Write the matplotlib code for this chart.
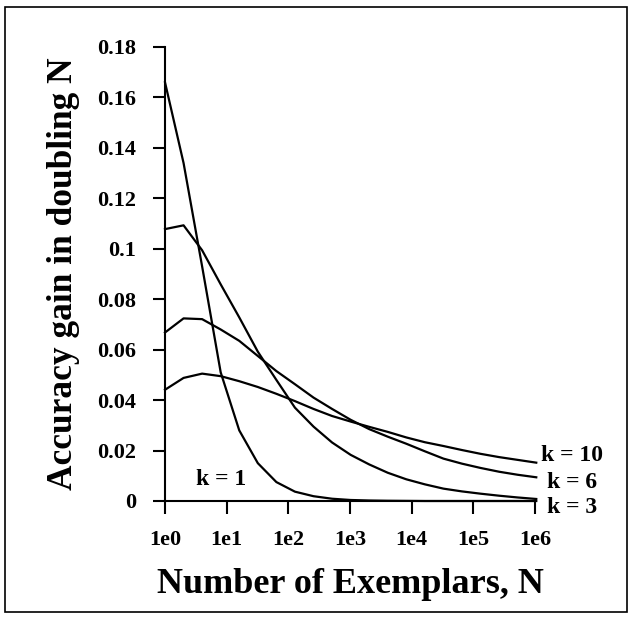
import numpy as np
import matplotlib
matplotlib.use("Agg")
import matplotlib.pyplot as plt
from matplotlib.patches import Rectangle

# Number of exemplars: successive doublings from 1 to ~1e6
doublings = list(range(21))
N = [2.0 ** i for i in doublings]

k1 = [0.166, 0.134, 0.093, 0.051, 0.028, 0.015, 0.0075, 0.0037, 0.0019, 0.0009,
      0.0004, 0.0002, 0.0001, 0.00005, 0.0, 0.0, 0.0, 0.0, 0.0, 0.0, 0.0]
k3 = [0.1078, 0.1093, 0.0994, 0.0859, 0.0728, 0.0592, 0.048, 0.037, 0.0295, 0.0232,
      0.0183, 0.0145, 0.0112, 0.0086, 0.0066, 0.0049, 0.0038, 0.0029, 0.0021, 0.0014, 0.0008]
k6 = [0.0668, 0.0724, 0.0721, 0.068, 0.0635, 0.0575, 0.0515, 0.0463, 0.041, 0.0365,
      0.0322, 0.0285, 0.0255, 0.0227, 0.0197, 0.0168, 0.0148, 0.0131, 0.0116, 0.0104, 0.0094]
k10 = [0.0441, 0.0488, 0.0505, 0.0495, 0.0475, 0.0452, 0.0425, 0.0396, 0.0365, 0.0337,
       0.0315, 0.0294, 0.0274, 0.0252, 0.0233, 0.0218, 0.0202, 0.0187, 0.0174, 0.0163, 0.0152]

x_ticks = [1e0, 1e1, 1e2, 1e3, 1e4, 1e5, 1e6]
x_tick_labels = ["1e0", "1e1", "1e2", "1e3", "1e4", "1e5", "1e6"]
y_ticks = [0, 0.02, 0.04, 0.06, 0.08, 0.1, 0.12, 0.14, 0.16, 0.18]
y_tick_labels = ["0", "0.02", "0.04", "0.06", "0.08", "0.1", "0.12", "0.14", "0.16", "0.18"]

plt.rcParams["font.family"] = ["Liberation Serif", "DejaVu Serif"]
plt.rcParams["font.weight"] = "bold"

fig = plt.figure(figsize=(6.29, 6.22), dpi=100)
fig.patch.set_facecolor("white")

# outer frame
fig.patches.append(Rectangle((5 / 629, 1 - 612 / 622), 622 / 629, 605 / 622,
                             transform=fig.transFigure, fill=False,
                             edgecolor="black", linewidth=1.2))

ax = fig.add_axes([165 / 629, 1 - 501 / 622, 370 / 629, 454 / 622])
ax.set_xscale("log")
for series in (k1, k3, k6, k10):
    ax.plot(N, series, color="black", linewidth=1.6, clip_on=False)

ax.set_xlim(1, 1e6)
ax.set_ylim(0, 0.18)
ax.set_xticks(x_ticks)
ax.set_xticklabels(x_tick_labels)
ax.xaxis.set_minor_locator(matplotlib.ticker.NullLocator())
ax.set_yticks(y_ticks)
ax.set_yticklabels(y_tick_labels)

for s in ("top", "right"):
    ax.spines[s].set_visible(False)
for s in ("left", "bottom"):
    ax.spines[s].set_linewidth(1.5)

ax.tick_params(axis="both", direction="out", length=9, width=1.5, labelsize=16)
ax.tick_params(axis="x", pad=12)
ax.tick_params(axis="y", pad=12)
for lab in ax.get_xticklabels() + ax.get_yticklabels():
    lab.set_fontweight("bold")

ax.set_xlabel("Number of Exemplars, N", fontsize=26, fontweight="bold", labelpad=13)
ax.set_ylabel("Accuracy gain in doubling N", fontsize=25.5, fontweight="bold", labelpad=12)

lab_kw = dict(fontsize=17, fontweight="bold", va="center", ha="left", clip_on=False)
ax.text(10 ** 6.09, 0.0179, "k = 10", **lab_kw)
ax.text(10 ** 6.2, 0.0072, "k = 6", **lab_kw)
ax.text(10 ** 6.2, -0.0024, "k = 3", **lab_kw)
ax.text(10 ** 0.5, 0.0087, "k = 1", **lab_kw)

fig.savefig("out.png", dpi=100)
